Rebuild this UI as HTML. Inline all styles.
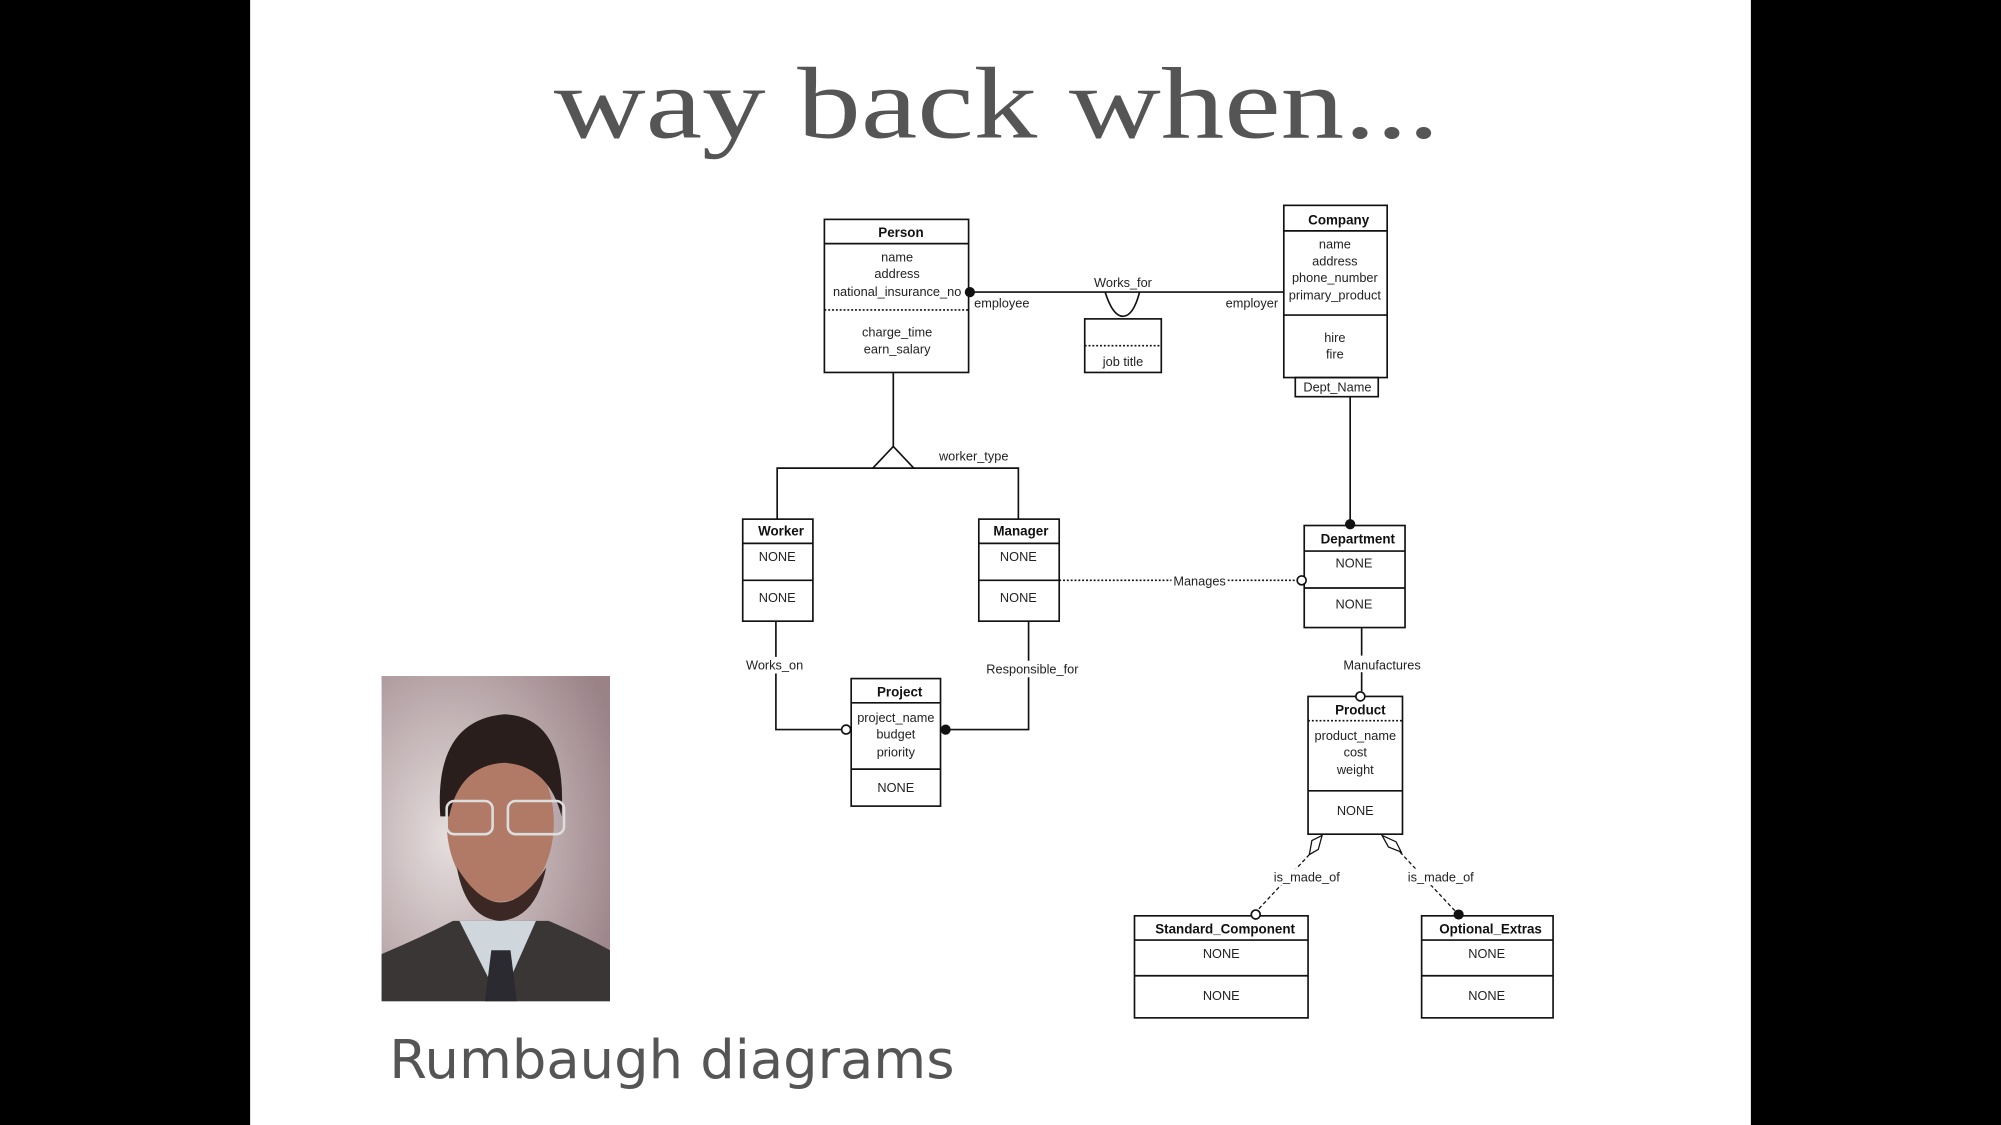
<!DOCTYPE html>
<html><head><meta charset="utf-8"><style>
html,body{margin:0;padding:0;background:#000;}
svg{display:block;}
.t{font-family:"Liberation Sans",Arial,sans-serif;font-size:10px;fill:#222;}
.b{font-family:"Liberation Sans",Arial,sans-serif;font-size:10.5px;font-weight:bold;fill:#111;}
</style></head><body>
<svg width="2001" height="1125" viewBox="0 0 1568 882" preserveAspectRatio="none" xmlns="http://www.w3.org/2000/svg">
<rect x="0" y="0" width="1568" height="882" fill="#000"/>
<rect x="196" y="0" width="1176" height="882" fill="#fff"/>
<text x="434" y="108" textLength="694" lengthAdjust="spacingAndGlyphs" font-family="Liberation Serif,serif" font-size="80" fill="#555">way back when...</text>
<text x="305" y="845" textLength="443" lengthAdjust="spacingAndGlyphs" font-family="DejaVu Sans,Liberation Sans,sans-serif" font-size="42" fill="#555">Rumbaugh diagrams</text>

<!-- photo -->
<defs><radialGradient id="bg" cx="0.3" cy="0.5" r="0.8"><stop offset="0" stop-color="#e6dede"/><stop offset="1" stop-color="#9a8287"/></radialGradient></defs>
<rect x="299" y="530" width="179" height="255" fill="url(#bg)"/>
<path d="M299 785 L299 748 Q330 735 355 722 L430 722 Q460 735 478 745 L478 785 Z" fill="#3a3636"/>
<path d="M360 722 L392 785 L420 722 Z" fill="#cfd7dc"/>
<path d="M385 745 L400 745 L405 785 L380 785 Z" fill="#2b2a30"/>
<ellipse cx="392" cy="645" rx="42" ry="62" fill="#b07a66"/>
<path d="M345 640 Q340 565 395 560 Q445 562 440 640 Q430 600 395 598 Q360 600 352 640 Z" fill="#2a1e1c"/>
<path d="M358 680 Q392 735 428 680 Q420 720 392 722 Q365 720 358 680 Z" fill="#3b2824"/>
<rect x="350" y="628" width="36" height="26" rx="6" fill="none" stroke="#ddd" stroke-width="2"/>
<rect x="398" y="628" width="44" height="26" rx="6" fill="none" stroke="#ddd" stroke-width="2"/>

<g fill="none" stroke="#111" stroke-width="1.3">
<rect x="646" y="172" width="113" height="120" fill="#fff"/>
<line x1="646" y1="191" x2="759" y2="191"/>
<line x1="646" y1="243" x2="759" y2="243" stroke-dasharray="1.5 1.5"/>
<rect x="1006" y="161" width="81" height="135" fill="#fff"/>
<line x1="1006" y1="181" x2="1087" y2="181"/>
<line x1="1006" y1="247" x2="1087" y2="247"/>
<rect x="1015" y="296" width="65" height="15"/>
<line x1="760" y1="229" x2="1006" y2="229"/>
<path d="M866 229 Q872 248 880 248 Q888 248 893 229"/>
<rect x="850" y="250" width="60" height="42" fill="#fff"/>
<line x1="850" y1="271" x2="910" y2="271" stroke-dasharray="1.5 1.5"/>
<line x1="700" y1="292" x2="700" y2="350"/>
<path d="M684 367 L700 350 L716 367"/>
<polyline points="609,407 609,367 798,367 798,407"/>
<rect x="582" y="407" width="55" height="80" fill="#fff"/>
<line x1="582" y1="426" x2="637" y2="426"/><line x1="582" y1="455" x2="637" y2="455"/>
<rect x="767" y="407" width="63" height="80" fill="#fff"/>
<line x1="767" y1="426" x2="830" y2="426"/><line x1="767" y1="455" x2="830" y2="455"/>
<line x1="1058" y1="311" x2="1058" y2="412"/>
<rect x="1022" y="412" width="79" height="80" fill="#fff"/>
<line x1="1022" y1="432" x2="1101" y2="432"/><line x1="1022" y1="461" x2="1101" y2="461"/>
<line x1="830" y1="455" x2="1016" y2="455" stroke-dasharray="1.5 1.5"/>
<polyline points="608,487 608,572 659,572"/>
<polyline points="806,487 806,572 741,572"/>
<rect x="667" y="532" width="70" height="100" fill="#fff"/>
<line x1="667" y1="551" x2="737" y2="551"/><line x1="667" y1="603" x2="737" y2="603"/>
<line x1="1067" y1="492" x2="1067" y2="542"/>
<rect x="1025" y="546" width="74" height="108" fill="#fff"/>
<line x1="1025" y1="565" x2="1099" y2="565" stroke-dasharray="1.5 1.5"/>
<line x1="1025" y1="620" x2="1099" y2="620"/>
<path d="M1036 655 L1033 666 L1026 670 L1028 659 Z" stroke-width="1"/>
<line x1="1026" y1="670" x2="986" y2="713" stroke-dasharray="3 2" stroke-width="1"/>
<path d="M1083 655 L1094 660 L1098 668 L1088 664 Z" stroke-width="1"/>
<line x1="1097" y1="668" x2="1141" y2="715" stroke-dasharray="3 2" stroke-width="1"/>
<rect x="889" y="718" width="136" height="80" fill="#fff"/>
<line x1="889" y1="737" x2="1025" y2="737"/><line x1="889" y1="765" x2="1025" y2="765"/>
<rect x="1114" y="718" width="103" height="80" fill="#fff"/>
<line x1="1114" y1="737" x2="1217" y2="737"/><line x1="1114" y1="765" x2="1217" y2="765"/>
</g>
<g fill="#111">
<circle cx="760" cy="229" r="4"/>
<circle cx="1058" cy="411" r="4"/>
<circle cx="741" cy="572" r="4"/>
<circle cx="1143" cy="717" r="4"/>
</g>
<g fill="#fff" stroke="#111" stroke-width="1.3">
<circle cx="1020" cy="455" r="3.5"/>
<circle cx="663" cy="572" r="3.5"/>
<circle cx="1066" cy="546" r="3.5"/>
<circle cx="984" cy="717" r="3.5"/>
</g>
<rect x="918" y="450" width="44" height="12" fill="#fff"/>
<rect x="1050" y="514" width="66" height="13" fill="#fff"/>
<rect x="994" y="681" width="60" height="13" fill="#fff"/>
<rect x="1100" y="681" width="60" height="13" fill="#fff"/>
<rect x="580" y="515" width="54" height="13" fill="#fff"/>
<rect x="770" y="518" width="80" height="13" fill="#fff"/>

<g class="t" text-anchor="middle">
<text class="b" x="706" y="186">Person</text>
<text x="703" y="205">name</text><text x="703" y="218">address</text><text x="703" y="232">national_insurance_no</text>
<text x="703" y="264">charge_time</text><text x="703" y="277">earn_salary</text>
<text class="b" x="1049" y="176">Company</text>
<text x="1046" y="195">name</text><text x="1046" y="208">address</text><text x="1046" y="221">phone_number</text><text x="1046" y="235">primary_product</text>
<text x="1046" y="268">hire</text><text x="1046" y="281">fire</text>
<text x="1048" y="307">Dept_Name</text>
<text x="880" y="225">Works_for</text>
<text x="785" y="241">employee</text><text x="981" y="241">employer</text>
<text x="880" y="287">job title</text>
<text x="763" y="361">worker_type</text>
<text class="b" x="612" y="420">Worker</text><text x="609" y="440">NONE</text><text x="609" y="472">NONE</text>
<text class="b" x="800" y="420">Manager</text><text x="798" y="440">NONE</text><text x="798" y="472">NONE</text>
<text class="b" x="1064" y="426">Department</text><text x="1061" y="445">NONE</text><text x="1061" y="477">NONE</text>
<text x="940" y="459">Manages</text>
<text x="607" y="525">Works_on</text>
<text x="809" y="528">Responsible_for</text>
<text class="b" x="705" y="546">Project</text>
<text x="702" y="566">project_name</text><text x="702" y="579">budget</text><text x="702" y="593">priority</text>
<text x="702" y="621">NONE</text>
<text x="1083" y="525">Manufactures</text>
<text class="b" x="1066" y="560">Product</text>
<text x="1062" y="580">product_name</text><text x="1062" y="593">cost</text><text x="1062" y="607">weight</text>
<text x="1062" y="639">NONE</text>
<text x="1024" y="691">is_made_of</text><text x="1129" y="691">is_made_of</text>
<text class="b" x="960" y="732">Standard_Component</text><text x="957" y="751">NONE</text><text x="957" y="784">NONE</text>
<text class="b" x="1168" y="732">Optional_Extras</text><text x="1165" y="751">NONE</text><text x="1165" y="784">NONE</text>
</g>
</svg>
</body></html>
